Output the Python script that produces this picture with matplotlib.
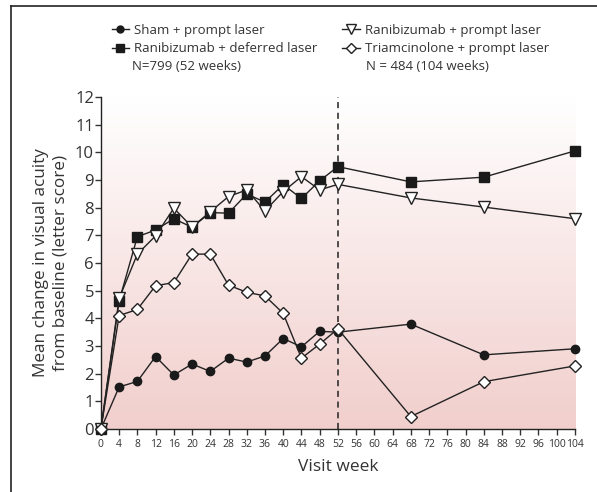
import numpy as np
import matplotlib.pyplot as plt
from matplotlib.lines import Line2D

# ====== Data ======
weeks = [0, 4, 8, 12, 16, 20, 24, 28, 32, 36, 40, 44, 48, 52, 68, 84, 104]
sham_prompt = [0, 1.52, 1.72, 2.62, 1.95, 2.35, 2.08, 2.56, 2.42, 2.64, 3.27, 2.97, 3.53, 3.5, 3.79, 2.68, 2.9]
ranib_deferred = [0, 4.63, 6.95, 7.19, 7.6, 7.29, 7.82, 7.8, 8.49, 8.2, 8.83, 8.33, 8.97, 9.48, 8.93, 9.1, 10.05]
ranib_prompt = [0, 4.72, 6.32, 6.98, 7.98, 7.3, 7.85, 8.4, 8.64, 7.88, 8.58, 9.12, 8.64, 8.84, 8.35, 8.02, 7.6]
triam_prompt = [0, 4.1, 4.32, 5.18, 5.29, 6.32, 6.32, 5.2, 4.94, 4.81, 4.18, 2.56, 3.07, 3.62, 0.45, 1.71, 2.28]

x_ticks = list(range(0, 105, 4))
y_ticks = list(range(0, 13))

plt.rcParams['font.family'] = ['Open Sans', 'DejaVu Sans']

fig = plt.figure(figsize=(5.97, 4.92), dpi=100)
ax = fig.add_axes([0.169, 0.128, 0.794, 0.675])

# background gradient, white at the top to pale pink at the bottom
grad = np.linspace(0, 1, 256).reshape(-1, 1)
top_c = np.array([1.0, 1.0, 1.0])
bot_c = np.array([0.945, 0.81, 0.80])
img = top_c + (bot_c - top_c) * grad[:, :, None]
ax.imshow(img, extent=[0, 104, 0, 12], aspect='auto', origin='upper', zorder=0)

ax.axvline(52, color='#222222', lw=1.1, ls=(0, (4, 3)), zorder=1)

kw = dict(color='#222222', lw=1.0, clip_on=False, zorder=3)
ax.plot(weeks, sham_prompt, marker='o', ms=6, mfc='#1a1a1a', mec='#1a1a1a', **kw)
ax.plot(weeks, ranib_deferred, marker='s', ms=6.5, mfc='#1a1a1a', mec='#1a1a1a', **kw)
ax.plot(weeks, ranib_prompt, marker='v', ms=9, mfc='white', mec='#222222', mew=1.0, **kw)
ax.plot(weeks, triam_prompt, marker='D', ms=6, mfc='white', mec='#222222', mew=1.0, **kw)

ax.set_xlim(0, 104)
ax.set_ylim(0, 12)
ax.set_xticks(x_ticks)
ax.set_yticks(y_ticks)
ax.tick_params(axis='x', labelsize=7.5, length=4, width=1, colors='#333333', pad=3)
ax.tick_params(axis='y', labelsize=12, length=4, width=1, colors='#333333', pad=1)
for s in ['top', 'right']:
    ax.spines[s].set_visible(False)
for s in ['left', 'bottom']:
    ax.spines[s].set_linewidth(1.0)
    ax.spines[s].set_color('#222222')

ax.set_xlabel('Visit week', fontsize=12.5, color='#333333', labelpad=7)
ax.set_ylabel('Mean change in visual acuity\nfrom baseline (letter score)', fontsize=12.3,
              color='#333333', labelpad=5, linespacing=1.25)

# legend
handles = [
    Line2D([], [], color='#222222', lw=1, marker='o', ms=5, mfc='#1a1a1a', mec='#1a1a1a'),
    Line2D([], [], color='#222222', lw=1, marker='s', ms=6, mfc='#1a1a1a', mec='#1a1a1a'),
    Line2D([], [], color='#222222', lw=1, marker='v', ms=7, mfc='white', mec='#222222'),
    Line2D([], [], color='#222222', lw=1, marker='D', ms=5, mfc='white', mec='#222222'),
]
labels = ['Sham + prompt laser', 'Ranibizumab + deferred laser',
          'Ranibizumab + prompt laser', 'Triamcinolone + prompt laser']
leg = fig.legend(handles, labels, ncol=2, loc='upper left', bbox_to_anchor=(0.178, 0.962),
                 frameon=False, fontsize=9.5, handlelength=1.3, handletextpad=0.4,
                 columnspacing=1.9, labelspacing=0.4, borderaxespad=0)
for t in leg.get_texts():
    t.set_color('#333333')
fig.text(0.221, 0.864, 'N=799 (52 weeks)', fontsize=9.5, color='#333333', va='center')
fig.text(0.613, 0.864, 'N = 484 (104 weeks)', fontsize=9.5, color='#333333', va='center')

# frame lines at top and left
fig.add_artist(Line2D([11 / 597, 1], [1 - 6 / 492, 1 - 6 / 492], color='#222222', lw=1.2))
fig.add_artist(Line2D([11 / 597, 11 / 597], [0, 1 - 6 / 492], color='#222222', lw=1.2))

fig.savefig('out.png', dpi=100)
